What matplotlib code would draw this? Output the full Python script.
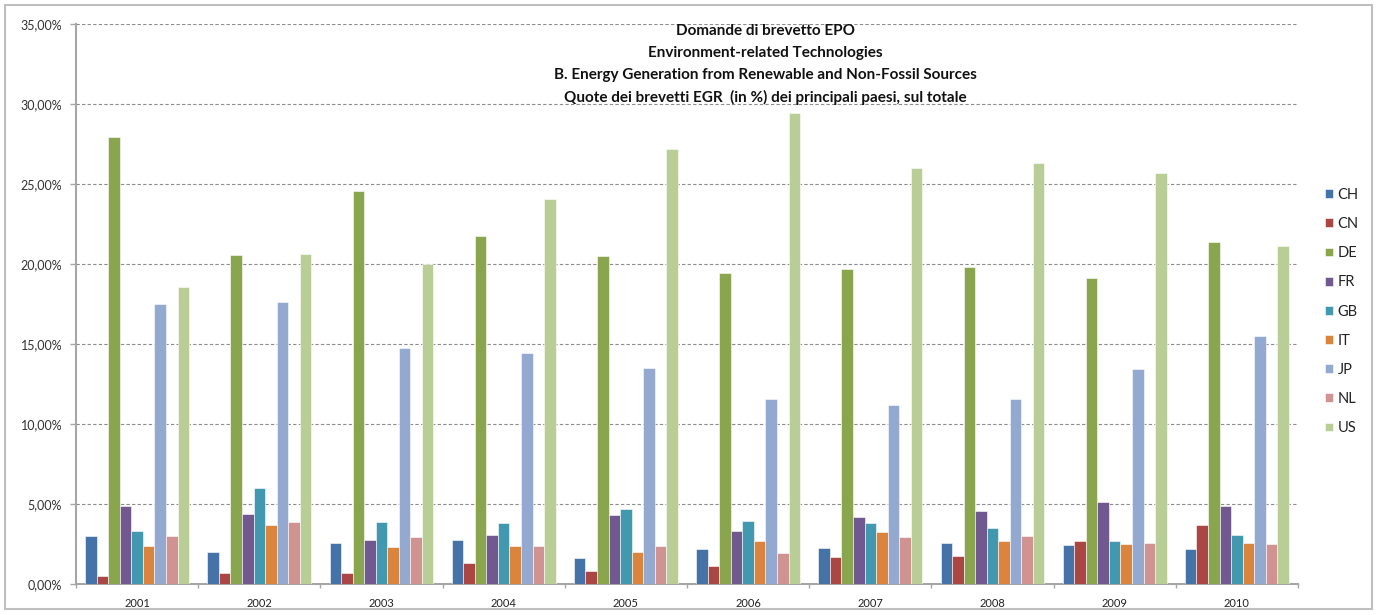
import matplotlib.pyplot as plt
import numpy as np
from matplotlib.patches import Rectangle
from matplotlib.ticker import FuncFormatter, MultipleLocator

plt.rcParams['font.family'] = ['Lato', 'DejaVu Sans']

# Quote dei brevetti EGR (%) per paese e anno
years = ['2001', '2002', '2003', '2004', '2005', '2006', '2007', '2008', '2009', '2010']
countries = ['CH', 'CN', 'DE', 'FR', 'GB', 'IT', 'JP', 'NL', 'US']

CH = [3.00, 2.02, 2.58, 2.77, 1.60, 2.18, 2.27, 2.58, 2.42, 2.18]
CN = [0.52, 0.66, 0.66, 1.30, 0.79, 1.15, 1.71, 1.77, 2.67, 3.71]
DE = [27.95, 20.56, 24.54, 21.77, 20.50, 19.42, 19.67, 19.83, 19.10, 21.38]
FR = [4.85, 4.36, 2.77, 3.08, 4.29, 3.33, 4.20, 4.54, 5.13, 4.85]
GB = [3.33, 6.00, 3.90, 3.80, 4.69, 3.96, 3.80, 3.48, 2.67, 3.08]
IT = [2.35, 3.70, 2.29, 2.35, 2.02, 2.67, 3.25, 2.67, 2.50, 2.58]
JP = [17.50, 17.60, 14.73, 14.42, 13.52, 11.58, 11.17, 11.58, 13.44, 15.48]
NL = [3.00, 3.89, 2.94, 2.35, 2.35, 1.94, 2.94, 3.00, 2.58, 2.50]
US = [18.56, 20.64, 20.00, 24.04, 27.20, 29.46, 25.98, 26.31, 25.67, 21.13]

series = [CH, CN, DE, FR, GB, IT, JP, NL, US]
colors = ['#4572A7', '#AA4643', '#89A54E', '#71588F', '#4198AF',
          '#DB843D', '#93A9CF', '#D19392', '#B9CD96']

title_lines = ['Domande di brevetto EPO',
               'Environment-related Technologies',
               'B. Energy Generation from Renewable and Non-Fossil Sources',
               'Quote dei brevetti EGR  (in %) dei principali paesi, sul totale']

W, H = 1377, 615
fig = plt.figure(figsize=(W / 100, H / 100), dpi=100)
ax = fig.add_axes([76 / W, 1 - 584 / H, (1298 - 76) / W, (584 - 24) / H])

x = np.arange(len(years))
n = len(series)
bw = 0.851 / n
for j, (vals, c, name) in enumerate(zip(series, colors, countries)):
    ax.bar(x + (j - (n - 1) / 2) * bw, vals, width=bw, color=c,
           edgecolor='white', linewidth=0.4, label=name, zorder=3)

ax.set_xlim(-0.5, len(years) - 0.5)
ax.set_ylim(0, 35)
ax.yaxis.set_major_locator(MultipleLocator(5))
ax.yaxis.set_major_formatter(FuncFormatter(lambda v, p: f'{v:.2f}'.replace('.', ',') + '%'))
ax.grid(axis='y', linestyle=(0, (3, 2)), color='#8c8c8c', linewidth=0.8, zorder=0)

ax.set_xticks(x)
ax.set_xticklabels(years)
ax.set_xticks(np.arange(len(years) + 1) - 0.5, minor=True)
ax.tick_params(axis='x', which='major', length=0, pad=10, labelsize=8, labelcolor='#222222')
ax.tick_params(axis='x', which='minor', length=3, width=1, color='#a6a6a6', direction='out')
ax.tick_params(axis='y', length=4, width=1, color='#a6a6a6', pad=6, labelsize=9, labelcolor='#333333')

for s in ['top', 'right']:
    ax.spines[s].set_visible(False)
for s in ['left', 'bottom']:
    ax.spines[s].set_color('#a6a6a6')
    ax.spines[s].set_linewidth(1.5)

leg = fig.legend(loc='center left', bbox_to_anchor=(1325 / W, 1 - 311.5 / H),
                 frameon=False, fontsize=10.5, handlelength=0.55, handleheight=0.55,
                 handletextpad=0.3, labelspacing=1.04, borderpad=0, borderaxespad=0)
for t in leg.get_texts():
    t.set_color('#222222')

ys = [31, 53, 75, 97]
for line, yy in zip(title_lines, ys):
    fig.text(765 / W, 1 - yy / H, line, ha='center', va='center',
             fontsize=11, fontweight='bold', color='#111111')

fig.patches.append(Rectangle((5 / W, 1 - 609 / H), (1372 - 5) / W, (609 - 5) / H,
                             transform=fig.transFigure, fill=False,
                             edgecolor='#bfbfbf', linewidth=1.5))

fig.savefig('out.png', dpi=100)
